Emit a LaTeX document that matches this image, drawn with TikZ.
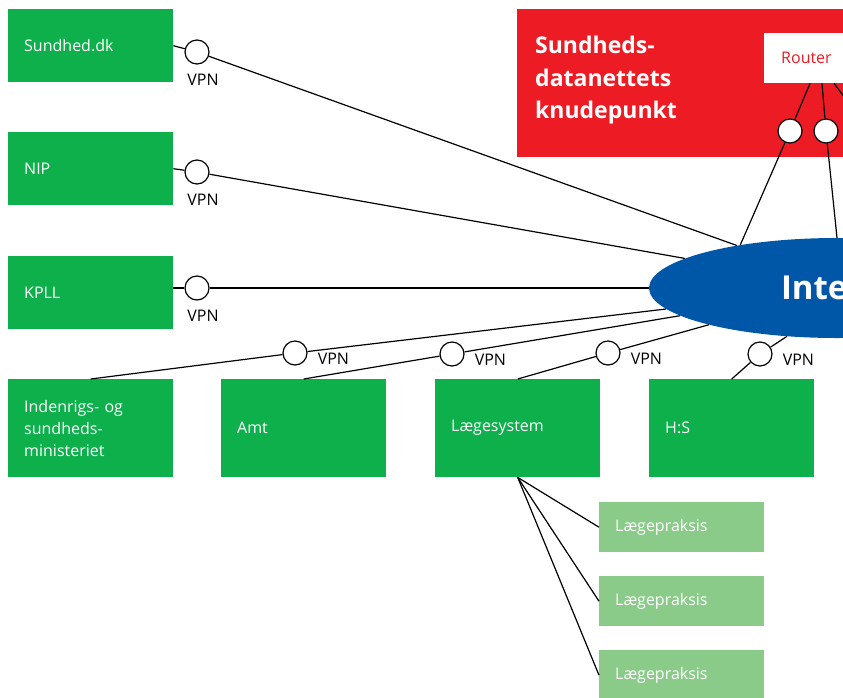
\documentclass[tikz,border=0pt]{standalone}
\usepackage{fontspec}
\setmainfont{Open Sans}
\usepackage{tikz}
\usetikzlibrary{shapes.geometric,positioning}
\definecolor{sdgreen}{HTML}{0DB04B}
\definecolor{sdlight}{HTML}{8BCB8A}
\definecolor{sdred}{HTML}{ED1C24}
\definecolor{sdblue}{HTML}{0057A8}
\tikzset{org box/.style={rectangle,fill=sdgreen,text=white,anchor=north west,minimum width=165pt,minimum height=73pt,text width=133pt,inner xsep=16pt,inner ysep=0pt,align=left,font=\fontsize{16}{22}\selectfont},
         praksis box/.style={org box,fill=sdlight,minimum height=50pt},
         vpn node/.style={circle,fill=white,draw=black,line width=1.2pt,minimum size=24pt,inner sep=0pt},
         vpn label/.style={rectangle,inner sep=0pt,font=\fontsize{16}{16}\selectfont},
         link/.style={line width=1.2pt}
}

\begin{document}
\begin{tikzpicture}[x=1pt,y=-1pt]
\useasboundingbox (0,0) rectangle (843,697);
\clip (0,0) rectangle (843,697);

\node[rectangle,fill=sdred,anchor=north west,minimum width=340pt,minimum height=148pt] (knude) at (517,9) {};
\node[anchor=west,inner sep=0pt,text=white,align=left,font=\bfseries\fontsize{23}{32.5}\selectfont] (titel) at ([xshift=18pt,yshift=3pt]knude.west) {Sundheds-\\datanettets\\knudepunkt};
\node[rectangle,fill=white,anchor=north west,minimum width=100pt,minimum height=50pt,text width=66pt,inner xsep=17pt,align=left,text=sdred,font=\fontsize{16}{16}\selectfont] (router) at (764,33) {Router};
\node[vpn node] (rc1) at (790,131) {};
\node[vpn node] (rc2) at (826,131) {};
\coordinate (rc3) at (862,120);

\node[ellipse,fill=sdblue,minimum width=376pt,minimum height=100pt,inner sep=0pt,text width=112pt,align=left,text=white,font=\bfseries\fontsize{33}{33}\selectfont] (inet) at (837,288) {Internet};

\node[org box] (sdk) at (8,9) {Sundhed.dk};
\node[org box] (nip) at (8,132) {NIP};
\node[org box] (kpll) at (8,256) {KPLL};
\node[org box,minimum height=98pt] (ism) at (8,379) {Indenrigs- og\\sundheds-\\ministeriet};
\node[org box,minimum height=98pt] (amt) at (221,379) {Amt};
\node[org box,minimum height=98pt] (laege) at (435,379) {Lægesystem};
\node[org box,minimum height=98pt] (hs) at (649,379) {H:S};

\node[praksis box] (p1) at (599,502) {Lægepraksis};
\node[praksis box] (p2) at (599,576) {Lægepraksis};
\node[praksis box] (p3) at (599,650) {Lægepraksis};

\node[vpn node] (v1) at (197,52) {};
\node[vpn node] (v2) at (197,172) {};
\node[vpn node] (v3) at (197,288) {};
\node[vpn node] (v4) at (295,353) {};
\node[vpn node] (v5) at (452,354) {};
\node[vpn node] (v6) at (608,353) {};
\node[vpn node] (v7) at (760,354) {};

\node[vpn label,below=9pt of v1,xshift=6pt] {VPN};
\node[vpn label,below=9pt of v2,xshift=6pt] {VPN};
\node[vpn label,below=9pt of v3,xshift=6pt] {VPN};
\node[vpn label,right=10pt of v4,yshift=-6pt] {VPN};
\node[vpn label,right=10pt of v5,yshift=-6pt] {VPN};
\node[vpn label,right=10pt of v6,yshift=-6pt] {VPN};
\node[vpn label,right=10pt of v7,yshift=-6pt] {VPN};

\draw[link] (sdk.east) -- (v1) -- (inet.157);
\draw[link] (nip.east) -- (v2) -- (inet.169);
\draw[link] (kpll.east |- v3) -- (v3) -- (inet.180);
\draw[link] (ism.north) -- (v4) -- (inet.187);
\draw[link] (amt.north) -- (v5) -- (inet.190);
\draw[link] (laege.north) -- (v6) -- (inet.196);
\draw[link] (hs.north) -- (v7) -- (inet.224);

\draw[link] ([xshift=46pt]router.south west) -- (rc1) -- (inet.156);
\draw[link] ([xshift=58pt]router.south west) -- (rc2) -- (inet.90);
\draw[link] ([xshift=70pt]router.south west) -- (rc3);

\draw[link] (laege.south) -- (p1.west);
\draw[link] (laege.south) -- (p2.west);
\draw[link] (laege.south) -- (p3.west);
\end{tikzpicture}
\end{document}
